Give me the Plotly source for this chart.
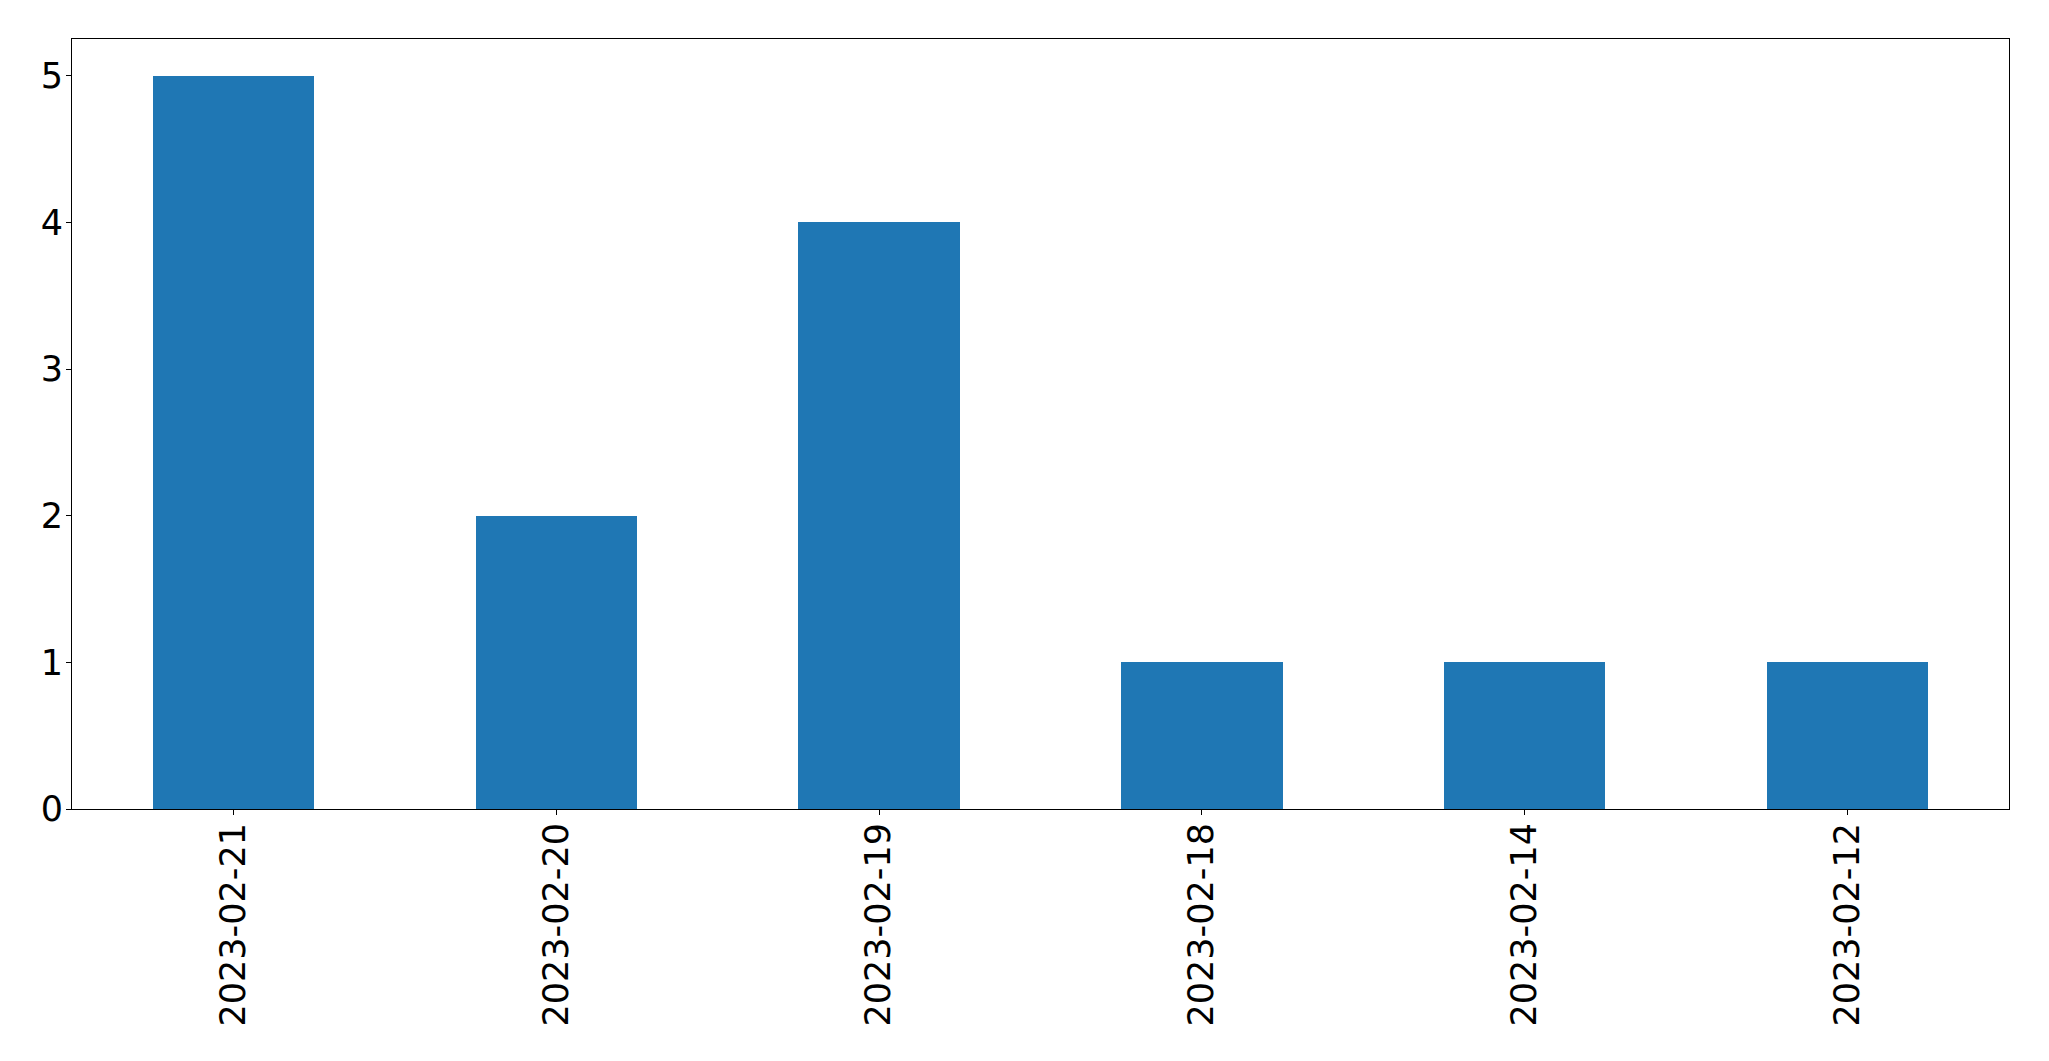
import plotly.graph_objects as go

dates = ["2023-02-21", "2023-02-20", "2023-02-19", "2023-02-18", "2023-02-14", "2023-02-12"]
counts = [5, 2, 4, 1, 1, 1]

fig = go.Figure(go.Bar(x=dates, y=counts, width=0.5, marker=dict(color="#1f77b4", line=dict(width=0))))

fnt = dict(family="DejaVu Sans", size=35, color="black")
fig.update_layout(
    width=2049, height=1061,
    margin=dict(l=64, r=48, t=31, b=260, pad=0),
    plot_bgcolor="white", paper_bgcolor="white",
    showlegend=False,
    bargap=0,
)
fig.update_xaxes(type="category", range=[-0.5, 5.5], showgrid=False, zeroline=False,
                 showline=True, linecolor="black", linewidth=1.1, mirror=True,
                 ticks="outside", ticklen=5, tickwidth=1.1, tickcolor="black",
                 tickangle=-90, tickfont=fnt, ticklabelstandoff=-6)
fig.update_yaxes(range=[0, 5.25], showgrid=False, zeroline=False,
                 showline=True, linecolor="black", linewidth=1.1, mirror=True,
                 ticks="outside", ticklen=5, tickwidth=1.1, tickcolor="black",
                 tickvals=[0, 1, 2, 3, 4, 5], tickfont=fnt, ticklabelstandoff=-4)

fig.write_html("out.html")
